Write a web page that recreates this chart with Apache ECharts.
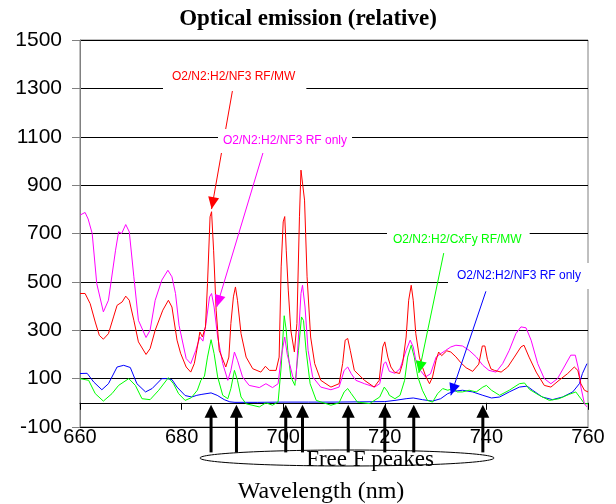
<!DOCTYPE html>
<html>
<head>
<meta charset="utf-8">
<script src="https://cdn.jsdelivr.net/npm/echarts@6/dist/echarts.min.js"></script>
<style>
  html, body { margin: 0; padding: 0; background: #fff; }
  #main { width: 616px; height: 504px; }
</style>
</head>
<body>
<div id="main"></div>
<script>
// wavelength (nm) / relative emission
var redWl = [660, 661, 662, 663, 663.8, 664.6, 665.6, 666.6, 667.3, 668.3, 669, 669.7, 670.6, 671.5, 673, 673.8, 674.8, 676.3, 677.4, 678.1, 679.1, 679.8, 680.9, 681.8, 682.5, 683.1, 683.6, 684.1, 684.7, 685.1, 685.6, 685.9, 686.3, 686.8, 687.4, 688.7, 689.3, 689.7, 690.2, 690.6, 691, 691.7, 692.7, 694, 695.6, 696.5, 697.3, 698.6, 699.2, 699.6, 700, 700.3, 700.6, 701, 701.5, 702.2, 702.7, 703.2, 703.5, 703.8, 704.2, 704.7, 705.4, 706.2, 707.4, 709.4, 711, 711.7, 712.2, 712.7, 713.2, 714, 716, 717.9, 718.9, 719.6, 720, 720.6, 721.2, 721.9, 722.9, 723.5, 724.2, 724.7, 725.2, 725.6, 726.1, 726.8, 727.4, 728.1, 728.8, 729.4, 730.1, 730.6, 731.2, 732.2, 733, 734, 735, 736, 737.3, 738.5, 739.2, 739.7, 740.2, 740.9, 741.6, 742.9, 744.2, 745.5, 746.8, 747.4, 748.4, 749.8, 751.4, 752.7, 754.3, 756, 757.3, 758, 758.6, 759.3, 760];
var redVal = [452, 452, 410, 334, 279, 263, 286, 355, 403, 417, 441, 424, 341, 252, 200, 224, 300, 383, 424, 396, 259, 205, 148, 127, 162, 231, 293, 272, 314, 493, 769, 790, 631, 383, 217, 148, 189, 328, 438, 479, 424, 286, 189, 141, 127, 151, 134, 134, 189, 562, 748, 770, 631, 466, 300, 210, 328, 769, 962, 969, 838, 521, 272, 162, 93, 65, 79, 162, 259, 266, 217, 134, 93, 65, 93, 231, 252, 189, 148, 127, 121, 162, 272, 424, 486, 424, 286, 189, 148, 107, 79, 107, 176, 210, 195, 215, 210, 190, 165, 145, 130, 160, 235, 235, 180, 140, 134, 127, 148, 189, 231, 238, 189, 127, 72, 65, 93, 121, 148, 134, 79, 52, 45];

var magWl = [660, 661, 661.6, 662.4, 663.3, 664.6, 665.6, 667, 667.6, 668.2, 669, 669.7, 670.6, 671.5, 673, 673.8, 674.8, 676.1, 677.3, 678.1, 678.8, 679.5, 680.9, 681.8, 682.8, 683.6, 684.2, 684.8, 685.5, 685.9, 686.4, 687.1, 688.1, 689.1, 689.7, 690.4, 691, 692, 693.3, 695.3, 696.6, 697.9, 699, 699.6, 700.3, 700.8, 701.9, 702.5, 703, 703.5, 703.8, 704.3, 704.9, 705.8, 707.4, 709.4, 711, 712, 712.7, 713.4, 714.3, 716, 718, 719, 719.8, 720.2, 720.9, 722, 723, 724.2, 725, 725.6, 726.1, 727, 728, 729, 730.1, 731, 732, 733, 734, 735.3, 736.6, 738, 739.3, 740.5, 741.9, 743.2, 744.5, 745.8, 746.8, 747.8, 748.8, 750.1, 751.4, 752.7, 754, 755.3, 756.6, 757.5, 758.2, 758.6, 759.3, 759.8];
var magVal = [776, 787, 760, 700, 493, 376, 424, 631, 707, 700, 737, 707, 521, 341, 270, 300, 424, 507, 548, 521, 452, 320, 183, 162, 217, 272, 255, 328, 438, 452, 396, 272, 162, 93, 134, 210, 176, 107, 72, 63, 79, 63, 79, 189, 272, 200, 107, 93, 272, 452, 486, 396, 217, 107, 65, 54, 65, 134, 148, 120, 93, 79, 65, 79, 162, 169, 130, 122, 141, 217, 259, 231, 176, 134, 107, 120, 189, 203, 217, 231, 238, 235, 217, 190, 155, 134, 127, 162, 217, 286, 314, 310, 259, 162, 100, 79, 100, 148, 197, 197, 134, 65, -4, -17];

var greenWl = [660, 661.7, 663, 664.6, 666.3, 667.6, 669.6, 670.9, 672.2, 673.8, 675.5, 677.4, 678.4, 679.4, 680.7, 681.9, 683.1, 683.8, 684.5, 685.1, 685.8, 686.4, 687.1, 688.1, 689.1, 689.7, 690.4, 691, 691.7, 692.7, 695.3, 696.6, 697.9, 699, 699.6, 700.2, 700.6, 700.9, 701.5, 702.3, 703, 703.6, 704, 704.5, 705.3, 706.5, 709.4, 711, 712, 712.7, 713.4, 714.6, 717, 719, 719.9, 720.6, 720.9, 722, 723, 723.9, 724.5, 725.2, 725.8, 726.5, 727.4, 728.4, 729.4, 730.4, 731.4, 732.4, 733.4, 734.3, 735.3, 736.6, 738, 739.3, 740, 741, 742.6, 744.5, 746.5, 747.5, 748.5, 750.4, 752.4, 754.3, 756.3, 757.6, 758.6, 759.3, 760];
var greenVal = [100, 93, 38, 7, 38, 72, 100, 72, 17, 13, 52, 104, 79, 38, 10, 21, 52, 93, 110, 189, 261, 203, 107, 31, 17, 59, 134, 93, 24, -4, -17, 0, -10, 4, 148, 360, 300, 217, 107, 72, 217, 355, 340, 217, 79, 10, -10, 0, 45, 59, 38, 3, -3, 24, 65, 45, 31, 17, 31, 93, 189, 238, 189, 107, 52, 10, 3, 38, 59, 52, 59, 45, 45, 52, 45, 65, 72, 52, 31, 52, 79, 82, 55, 31, 10, 17, 35, 45, 17, -4, -4];

var blueWl = [660, 661.4, 662.7, 664.3, 665.6, 667.3, 668.6, 669.9, 671.2, 672.9, 674.2, 676.1, 677.1, 678.1, 679.1, 680.7, 682, 683, 684, 685.8, 687, 688.4, 689.5, 690.5, 695, 700, 705, 710, 715, 720, 722, 724.2, 725.6, 727.4, 729.4, 731, 732.4, 733.7, 735.3, 737.3, 739.3, 741, 742.6, 744.5, 746.5, 748, 749.1, 751, 753, 755, 757, 758.3, 758.9, 759.8];
var blueVal = [121, 122, 86, 54, 79, 148, 155, 146, 79, 45, 59, 100, 100, 96, 65, 30, 24, 31, 35, 41, 31, 13, 4, 2, 2, 3, 3, 3, 4, 5, 10, 17, 20, 13, 7, 17, 38, 48, 52, 45, 31, 20, 24, 45, 65, 69, 52, 24, 13, 24, 45, 79, 121, 162];

var yTicks = [-100, 100, 300, 500, 700, 900, 1100, 1300, 1500];
var xTicks = [660, 680, 700, 720, 740, 760];

// wavelengths of the "Free F" lines marked with black arrows
var freeF = [685.8, 690.8, 700.5, 703.8, 712.8, 720.0, 725.7, 739.3];

// annotation arrows: [colour, start wl, start value, tip wl, tip value]
var annoArrows = [
	['#ff0000', 690.0, 1289, 685.9, 801],
	['#ff00ff', 696.3, 1053, 686.9, 396],
	['#00ff00', 731.6, 619, 726.7, 123],
	['#0000ff', 739.9, 461, 733.0, 31]
];

function pairs(xs, ys) {
	var out = [];
	for (var i = 0; i < xs.length; i++) out.push([xs[i], ys[i]]);
	return out;
}

function lineSeries(name, color, xs, ys) {
	return {
		name: name,
		type: 'line',
		symbol: 'none',
		smooth: false,
		lineStyle: { color: color, width: 1 },
		itemStyle: { color: color },
		data: pairs(xs, ys),
		z: 3
	};
}

var chart = echarts.init(document.getElementById('main'));

var option = {
	animation: false,
	backgroundColor: '#fff',
	title: {
		text: 'Optical emission (relative)',
		left: 'center',
		top: 3,
		textStyle: { fontFamily: 'Liberation Serif', fontWeight: 'bold', fontSize: 23, color: '#000' }
	},
	grid: { left: 80, right: 28, top: 40, bottom: 77, show: true, borderColor: '#808080', borderWidth: 1 },
	xAxis: [{
		type: 'value',
		min: xTicks[0],
		max: xTicks[xTicks.length - 1],
		interval: 20,
		position: 'bottom',
		axisLine: { onZero: false, lineStyle: { color: '#000', width: 1 } },
		axisTick: { show: false },
		splitLine: { show: false },
		axisLabel: { fontSize: 20, fontFamily: 'Liberation Sans', color: '#000', margin: 0, showMinLabel: true, showMaxLabel: true }
	}, {
		// the zero line with its ticks
		type: 'value',
		min: xTicks[0],
		max: xTicks[xTicks.length - 1],
		interval: 20,
		position: 'top',
		axisLine: { onZero: true, lineStyle: { color: '#000', width: 1 } },
		axisTick: { show: true, inside: true, length: 7, lineStyle: { color: '#000' } },
		axisLabel: { show: false },
		splitLine: { show: false }
	}],
	yAxis: {
		type: 'value',
		min: yTicks[0],
		max: yTicks[yTicks.length - 1],
		interval: 200,
		axisLine: { show: true, lineStyle: { color: '#808080' } },
		axisTick: { show: true, length: 8, lineStyle: { color: '#808080' } },
		axisLabel: {
			fontSize: 21, fontFamily: 'Liberation Sans', color: '#000', margin: 18,
			formatter: function (v) { return String(v); }
		},
		splitLine: { show: true, lineStyle: { color: '#000', width: 1 } }
	},
	series: [
		lineSeries('O2/N2:H2/NF3 RF only (blue)', '#0000ff', blueWl, blueVal),
		lineSeries('O2/N2:H2/CxFy RF/MW', '#00ff00', greenWl, greenVal),
		lineSeries('O2/N2:H2/NF3 RF only', '#ff00ff', magWl, magVal),
		lineSeries('O2/N2:H2/NF3 RF/MW', '#ff0000', redWl, redVal)
	]
};

chart.setOption(option);

function px(wl, v) {
	return chart.convertToPixel({ xAxisIndex: 0, yAxisIndex: 0 }, [wl, v]);
}

// filled triangle head at tip, pointing away from "from"
function head(from, tip, len, half, color) {
	var dx = tip[0] - from[0], dy = tip[1] - from[1];
	var d = Math.sqrt(dx * dx + dy * dy);
	var ux = dx / d, uy = dy / d;
	var bx = tip[0] - ux * len, by = tip[1] - uy * len;
	return {
		type: 'polygon',
		shape: { points: [tip, [bx - uy * half, by + ux * half], [bx + uy * half, by - ux * half]] },
		style: { fill: color },
		z: 10
	};
}

var g = [];

// coloured annotation arrows
annoArrows.forEach(function (a) {
	var p0 = px(a[1], a[2]);
	var p1 = px(a[3], a[4]);
	g.push({ type: 'line', shape: { x1: p0[0], y1: p0[1], x2: p1[0], y2: p1[1] }, style: { stroke: a[0], lineWidth: 1 }, z: 10 });
	g.push(head(p0, p1, 12, 5.5, a[0]));
});

// annotation labels, white boxes knock out the grid lines
var lblFont = '12px "Liberation Sans"';
g.push({ type: 'text', x: 163, y: 77, z: 11, style: { text: 'O2/N2:H2/NF3 RF/MW', font: lblFont, fill: '#ff0000', align: 'left', verticalAlign: 'middle', backgroundColor: '#fff', padding: [6, 11, 6, 9] } });
g.push({ type: 'text', x: 218, y: 141, z: 11, style: { text: 'O2/N2:H2/NF3 RF only', font: lblFont, fill: '#ff00ff', align: 'left', verticalAlign: 'middle', backgroundColor: '#fff', padding: [6, 5, 6, 5] } });
g.push({ type: 'text', x: 387, y: 240, z: 11, style: { text: 'O2/N2:H2/CxFy RF/MW', font: lblFont, fill: '#00ff00', align: 'left', verticalAlign: 'middle', backgroundColor: '#fff', padding: [6, 8, 6, 6] } });
g.push({ type: 'text', x: 448, y: 276, z: 11, style: { text: 'O2/N2:H2/NF3 RF only', font: lblFont, fill: '#0000ff', align: 'left', verticalAlign: 'middle', backgroundColor: '#fff', padding: [7, 17, 7, 9] } });

// black arrows from the ellipse up to the free F lines
freeF.forEach(function (wl) {
	var top = px(wl, -8);
	var bot = px(wl, -205);
	g.push({ type: 'line', shape: { x1: bot[0], y1: bot[1], x2: top[0], y2: top[1] + 10 }, style: { stroke: '#000', lineWidth: 3 }, z: 10 });
	g.push(head(bot, top, 13, 6.5, '#000'));
});

g.push({ type: 'ellipse', shape: { cx: 347, cy: 458, rx: 147, ry: 8 }, style: { fill: null, stroke: '#000', lineWidth: 1 }, z: 9 });
g.push({ type: 'text', x: 370, y: 460, z: 11, style: { text: 'Free F peakes', font: '23px "Liberation Serif"', fill: '#000', align: 'center', verticalAlign: 'middle' } });
g.push({ type: 'text', x: 321, y: 492, z: 11, style: { text: 'Wavelength (nm)', font: '24px "Liberation Serif"', fill: '#000', align: 'center', verticalAlign: 'middle' } });

chart.setOption({ graphic: g });
</script>
</body>
</html>
